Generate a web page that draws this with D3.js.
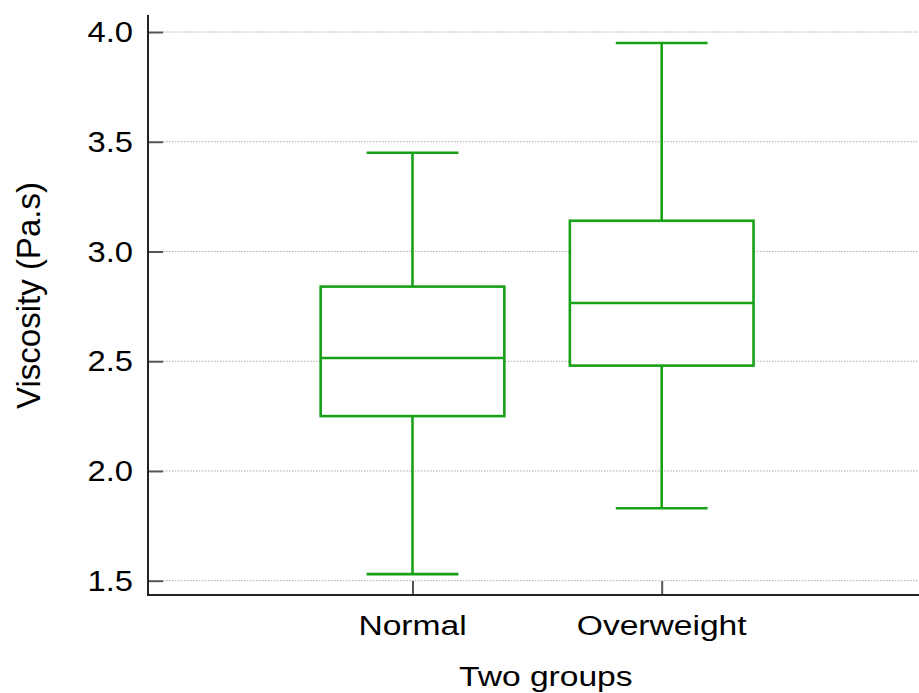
<!DOCTYPE html>
<html>
<head>
<meta charset="utf-8">
<script src="https://cdn.jsdelivr.net/npm/d3@7"></script>
<style>
  html, body { margin: 0; padding: 0; background: #fff; }
  svg { display: block; }
  text { font-family: "Liberation Sans", Arial, Helvetica, sans-serif; fill: #000; }
</style>
</head>
<body>
<svg id="chart" width="919" height="693"></svg>
<script>
// ---- data ----
const categories = ["Normal", "Overweight"];
const whiskerLow  = [1.53, 1.83];
const q1          = [2.25, 2.48];
const median      = [2.515, 2.765];
const q3          = [2.84, 3.14];
const whiskerHigh = [3.45, 3.95];
const yTicks = [1.5, 2.0, 2.5, 3.0, 3.5, 4.0];
const xTitle = "Two groups";
const yTitle = "Viscosity (Pa.s)";

// ---- layout ----
const W = 919, H = 693;
const plotLeft = 148, plotRight = 919, plotTop = 15, plotBottom = 595;
const green = "#17a117";

const svg = d3.select("#chart");

const y = d3.scaleLinear().domain([1.5, 4.0]).range([580.7, 32]);
const x = d3.scalePoint().domain(categories).range([412.5, 661.7]);
const step = x(categories[1]) - x(categories[0]);
const boxW = step * 0.737;
const capW = boxW / 2;

// gridlines
svg.append("g").selectAll("line").data(yTicks).join("line")
  .attr("x1", plotLeft + 15).attr("x2", W)
  .attr("y1", d => y(d)).attr("y2", d => y(d))
  .attr("stroke", "#a8a8a8").attr("stroke-width", 1)
  .attr("stroke-dasharray", "1.5,1.5");

// y axis (inward ticks)
const yAxis = svg.append("g")
  .attr("transform", `translate(${plotLeft},0)`)
  .call(d3.axisLeft(y).tickValues(yTicks).tickFormat(d3.format(".1f"))
    .tickSizeInner(-15).tickSizeOuter(0).tickPadding(15));
yAxis.select(".domain").remove();
yAxis.selectAll(".tick line").attr("stroke", "#555").attr("stroke-width", 2);
yAxis.selectAll(".tick text")
  .attr("font-size", 29)
  .attr("x", -15 / 1.13)
  .attr("dy", "0.33em")
  .attr("transform", "scale(1.13,1)");

// x axis ticks (inward)
const xAxis = svg.append("g")
  .attr("transform", `translate(0,${plotBottom})`)
  .call(d3.axisBottom(x).tickSizeInner(-14).tickSizeOuter(0).tickFormat(""));
xAxis.select(".domain").remove();
xAxis.selectAll(".tick line").attr("stroke", "#555").attr("stroke-width", 2);

// axis lines
svg.append("line")
  .attr("x1", plotLeft).attr("x2", plotLeft)
  .attr("y1", plotTop).attr("y2", plotBottom + 1)
  .attr("stroke", "#222").attr("stroke-width", 2);
svg.append("line")
  .attr("x1", plotLeft - 1).attr("x2", W)
  .attr("y1", plotBottom).attr("y2", plotBottom)
  .attr("stroke", "#222").attr("stroke-width", 2);

// category labels
svg.append("g").selectAll("text").data(categories).join("text")
  .attr("transform", d => `translate(${x(d)},635) scale(1.2,1)`)
  .attr("text-anchor", "middle")
  .attr("font-size", 28)
  .text(d => d);

// axis titles
svg.append("text")
  .attr("transform", "translate(545.8,686) scale(1.2,1)")
  .attr("text-anchor", "middle")
  .attr("font-size", 28)
  .text(xTitle);
svg.append("text")
  .attr("transform", "translate(40,295.5) rotate(-90)")
  .attr("text-anchor", "middle")
  .attr("font-size", 33)
  .text(yTitle);

// boxes
const boxes = svg.append("g").attr("fill", "none").attr("stroke", green).attr("stroke-width", 2.6);
categories.forEach((c, i) => {
  const cx = x(c);
  const g = boxes.append("g");
  // whiskers
  g.append("line").attr("x1", cx).attr("x2", cx).attr("y1", y(q3[i])).attr("y2", y(whiskerHigh[i]));
  g.append("line").attr("x1", cx).attr("x2", cx).attr("y1", y(q1[i])).attr("y2", y(whiskerLow[i]));
  // caps
  g.append("line").attr("x1", cx - capW / 2).attr("x2", cx + capW / 2)
    .attr("y1", y(whiskerHigh[i])).attr("y2", y(whiskerHigh[i]));
  g.append("line").attr("x1", cx - capW / 2).attr("x2", cx + capW / 2)
    .attr("y1", y(whiskerLow[i])).attr("y2", y(whiskerLow[i]));
  // box
  g.append("rect").attr("x", cx - boxW / 2).attr("width", boxW)
    .attr("y", y(q3[i])).attr("height", y(q1[i]) - y(q3[i]))
    .attr("fill", "#fff");
  // median
  g.append("line").attr("x1", cx - boxW / 2).attr("x2", cx + boxW / 2)
    .attr("y1", y(median[i])).attr("y2", y(median[i]));
});
</script>
</body>
</html>
